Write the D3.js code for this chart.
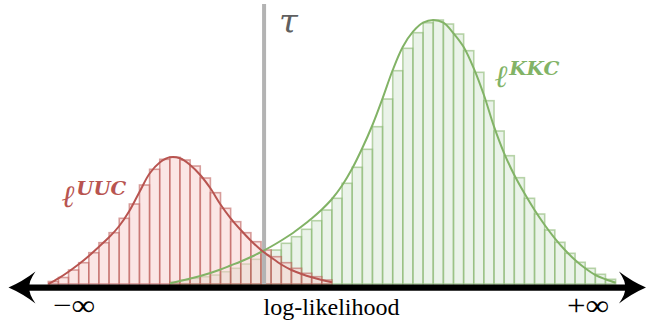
<!DOCTYPE html>
<html>
<head>
<meta charset="utf-8">
<script src="https://cdn.jsdelivr.net/npm/d3@7"></script>
<style>
  html, body { margin: 0; padding: 0; background: #fff; }
  svg { display: block; }
</style>
</head>
<body>
<svg id="chart" width="647" height="325"></svg>
<script>
// ---- data ----
const binCount = 56;            // number of histogram bins on the log-likelihood axis
const uucStartBin = 0;          // first bin of the UUC histogram
const kkcStartBin = 12;         // first bin of the KKC histogram
const uucBars = [2.5, 6.5, 14, 21.3, 31.3, 41.3, 51.3, 65.7, 80, 99, 114.7, 124.7, 126.7, 124,
                 118, 106, 91.3, 75.7, 62.3, 51.3, 42.3, 34, 27.3, 21.3, 15.7, 10.7, 7.3, 4];
const kkcBars = [2.3, 4, 5.7, 7.3, 9, 12.3, 15.7, 20, 24.7, 29, 34, 40.7, 47.3, 54.7, 63.3, 74,
                 85.7, 100.7, 116.7, 134.7, 157.3, 185, 213.3, 235.7, 251.3, 261.3, 264, 260, 250,
                 233.3, 211.7, 183.3, 153, 128.3, 106.3, 85.7, 70, 54, 41.7, 30.7, 21.7, 15.7, 9.7, 4.7];
// density curves sampled at bin edges
const uucCurve = [0, 5.7, 12.3, 19.7, 28, 37.3, 46.7, 58, 73, 92, 110.5, 121.5, 126.7, 125.7,
                  119, 109, 95.7, 79.5, 65.7, 54, 43.3, 34, 26.5, 19.5, 14, 10, 6.7, 4, 1.7];
const kkcCurve = [0.5, 3, 5.5, 8, 11, 14.5, 18.5, 22.5, 27, 32, 37.5, 43.5, 50, 57.5, 65.5, 74.5, 85,
                  98.5, 115.5, 136, 159, 185.7, 214, 237.3, 252.3, 261.3, 264, 261.3, 250.7, 237,
                  215.7, 189, 157.3, 130.7, 109, 90.7, 74, 59, 45.7, 34, 24, 15.7, 9, 4.7, 1.3];
const tauBin = 21.3;            // threshold position
const tickLabels = ["\u2212\u221E", "+\u221E"];
const axisTitle = "log-likelihood";
const tauLabel = "\u03C4";
const seriesNames = ["UUC", "KKC"];

// ---- chart ----
const svg = d3.select("#chart");
const x = d3.scaleLinear().domain([0, binCount]).range([48.3, 615.6]);
const y = d3.scaleLinear().domain([0, 284]).range([284, 0]);

const red = "#b85450", redFill = "#f8cecc";
const green = "#82b366", greenFill = "#d5e8d4";

function drawBars(values, start, fill, stroke) {
  svg.append("g").selectAll("rect")
    .data(values)
    .join("rect")
    .attr("x", (d, i) => x(start + i))
    .attr("width", (d, i) => x(start + i + 1) - x(start + i))
    .attr("y", d => y(d))
    .attr("height", d => y(0) - y(d))
    .attr("fill", fill).attr("fill-opacity", 0.5)
    .attr("stroke", stroke).attr("stroke-opacity", 0.55).attr("stroke-width", 1.6);
}
drawBars(kkcBars, kkcStartBin, greenFill, green);
drawBars(uucBars, uucStartBin, redFill, red);

// threshold line
svg.append("line")
  .attr("x1", x(tauBin)).attr("x2", x(tauBin))
  .attr("y1", 4).attr("y2", y(0))
  .attr("stroke", "#b3b3b3").attr("stroke-width", 4);

function drawCurve(values, start, stroke) {
  const line = d3.line()
    .x((d, i) => x(start + i))
    .y(d => y(d))
    .curve(d3.curveCatmullRom.alpha(0.5));
  svg.append("path").datum(values)
    .attr("d", line)
    .attr("fill", "none").attr("stroke", stroke).attr("stroke-width", 2);
}
drawCurve(kkcCurve, kkcStartBin, green);
drawCurve(uucCurve, uucStartBin, red);

// axis with arrows
const axisY = 287.6;
svg.append("line")
  .attr("x1", 28).attr("x2", 627)
  .attr("y1", axisY).attr("y2", axisY)
  .attr("stroke", "#000").attr("stroke-width", 6.4);
function arrow(tipX, dir) {
  const b = tipX + dir * 27, n = tipX + dir * 21;
  const p = d3.path();
  p.moveTo(tipX, axisY);
  p.quadraticCurveTo(tipX + dir * 14, axisY - 6, b, axisY - 16);
  p.quadraticCurveTo(n - dir * 1, axisY - 6, n, axisY);
  p.quadraticCurveTo(n - dir * 1, axisY + 6, b, axisY + 16);
  p.quadraticCurveTo(tipX + dir * 14, axisY + 6, tipX, axisY);
  p.closePath();
  svg.append("path").attr("d", p.toString()).attr("fill", "#000");
}
arrow(8.5, 1);
arrow(646, -1);

// tick labels
svg.append("text").text(tickLabels[0])
  .attr("x", 53).attr("y", 315)
  .attr("textLength", 42).attr("lengthAdjust", "spacingAndGlyphs")
  .attr("font-family", "Liberation Serif").attr("font-size", 29).attr("fill", "#000");
svg.append("text").text(tickLabels[1])
  .attr("x", 567).attr("y", 315)
  .attr("textLength", 42).attr("lengthAdjust", "spacingAndGlyphs")
  .attr("font-family", "Liberation Serif").attr("font-size", 29).attr("fill", "#000");
svg.append("text").text(axisTitle)
  .attr("x", 331.5).attr("y", 315).attr("text-anchor", "middle")
  .attr("font-family", "Liberation Serif").attr("font-size", 24).attr("fill", "#000");

// tau label
svg.append("text").text(tauLabel)
  .attr("x", 279).attr("y", 33)
  .attr("font-family", "DejaVu Serif").attr("font-style", "italic")
  .attr("font-size", 34).attr("fill", "#5f5f5f");

// series labels
function seriesLabel(name, lx, ly, color) {
  const t = svg.append("text")
    .attr("x", lx).attr("y", ly)
    .attr("font-family", "DejaVu Serif").attr("font-style", "italic").attr("font-weight", "bold")
    .attr("fill", color);
  t.append("tspan").text("\u2113").attr("font-size", 31);
  t.append("tspan").text(name).attr("font-size", 19).attr("dy", -12).attr("dx", 1)
    .attr("textLength", 50).attr("lengthAdjust", "spacingAndGlyphs");
}
seriesLabel(seriesNames[0], 62, 207, red);
seriesLabel(seriesNames[1], 495, 87, green);
</script>
</body>
</html>
